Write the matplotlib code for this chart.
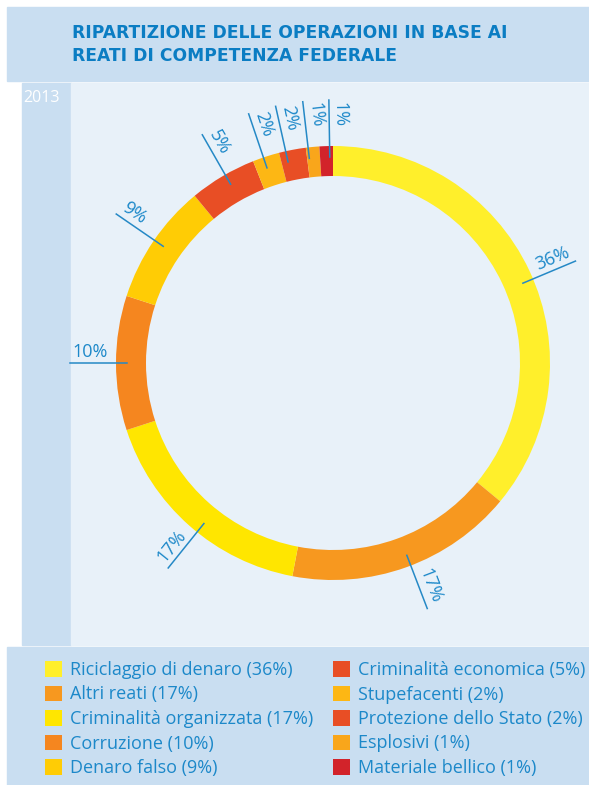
import matplotlib.pyplot as plt
from matplotlib.patches import Rectangle
import numpy as np

# data
categories = ['Riciclaggio di denaro', 'Altri reati', 'Criminalità organizzata', 'Corruzione',
              'Denaro falso', 'Criminalità economica', 'Stupefacenti', 'Protezione dello Stato',
              'Esplosivi', 'Materiale bellico']
shares = [36, 17, 17, 10, 9, 5, 2, 2, 1, 1]
colors = ['#FFEF2B', '#F7981F', '#FFE600', '#F5861F', '#FFCC05',
          '#E84E25', '#FDB714', '#E84E25', '#F9A61B', '#D2232A']
year = '2013'
title_lines = ['RIPARTIZIONE DELLE OPERAZIONI IN BASE AI', 'REATI DI COMPETENZA FEDERALE']

# small angular nudges of the percentage labels (layout only)
label_nudge = [-2.4, 1.2, 2.6, 0, -0.3, -0.8, 0.7, 1.8, 1.2, -0.9]

W, H = 589, 785
band = '#C9DEF1'
panel = '#E8F1F9'
blue = '#0B7DC3'
txt = '#1C88C9'

plt.rcParams['font.family'] = ['Open Sans', 'DejaVu Sans']
fig = plt.figure(figsize=(W / 100, H / 100), dpi=100)
ax = fig.add_axes([0, 0, 1, 1])

def Y(y):
    # pixel row (from top) -> data y (from bottom)
    return H - y

# background blocks
ax.add_patch(Rectangle((7, Y(81)), W, 74, color=band, zorder=0))
ax.add_patch(Rectangle((22, Y(645)), 49, 562, color=band, zorder=0))
ax.add_patch(Rectangle((71, Y(645)), W, 562, color=panel, zorder=0))
ax.add_patch(Rectangle((7, -10), W, H - 647 + 10, color=band, zorder=0))

ax.text(72, Y(38), title_lines[0], color=blue, fontsize=12.3, fontweight='bold',
        family='DejaVu Sans', ha='left', va='baseline')
ax.text(72, Y(61), title_lines[1], color=blue, fontsize=12.3, fontweight='bold',
        family='DejaVu Sans', ha='left', va='baseline')
ax.text(23, Y(101.5), year, color='white', fontsize=11.5, ha='left', va='baseline')

# donut
cx, cy = 333, Y(363)
wedges, _ = ax.pie(shares, colors=colors, startangle=90, counterclock=False,
                   radius=217, center=(cx, cy),
                   wedgeprops=dict(width=30, linewidth=0))

for w, v, nd in zip(wedges, shares, label_nudge):
    th = np.deg2rad((w.theta1 + w.theta2) / 2 + nd)
    c, s = np.cos(th), np.sin(th)
    ax.plot([cx + 206 * c, cx + 263 * c], [cy + 206 * s, cy + 263 * s],
            color='#2589C6', lw=1.1, zorder=3)
    deg = np.degrees(np.arctan2(s, c))
    if c >= 0:
        rot, ha = deg, 'right'
    else:
        rot = deg - 180 if deg > 0 else deg + 180
        ha = 'left'
    r = np.deg2rad(rot)
    ux, uy = -np.sin(r), np.cos(r)
    ax.text(cx + 261 * c + 6 * ux, cy + 261 * s + 6 * uy, f'{v}%',
            rotation=rot, rotation_mode='anchor', ha=ha, va='baseline',
            color=txt, fontsize=13, zorder=4)

ax.set_xlim(0, W)
ax.set_ylim(0, H)
ax.set_aspect('auto')
ax.axis('off')

# legend in two columns
labels = [f'{n} ({v}%)' for n, v in zip(categories, shares)]
common = dict(loc='upper left', frameon=False, borderpad=0, borderaxespad=0,
              fontsize=13, handlelength=0.95, handleheight=0.95, handletextpad=0.45,
              labelspacing=0.36, labelcolor=txt)
leg1 = ax.legend(wedges[:5], labels[:5], bbox_to_anchor=(45 / W, Y(661) / H), **common)
ax.add_artist(leg1)
ax.legend(wedges[5:], labels[5:], bbox_to_anchor=(333 / W, Y(661) / H), **common)

fig.savefig('out.png', dpi=100, facecolor='white')
